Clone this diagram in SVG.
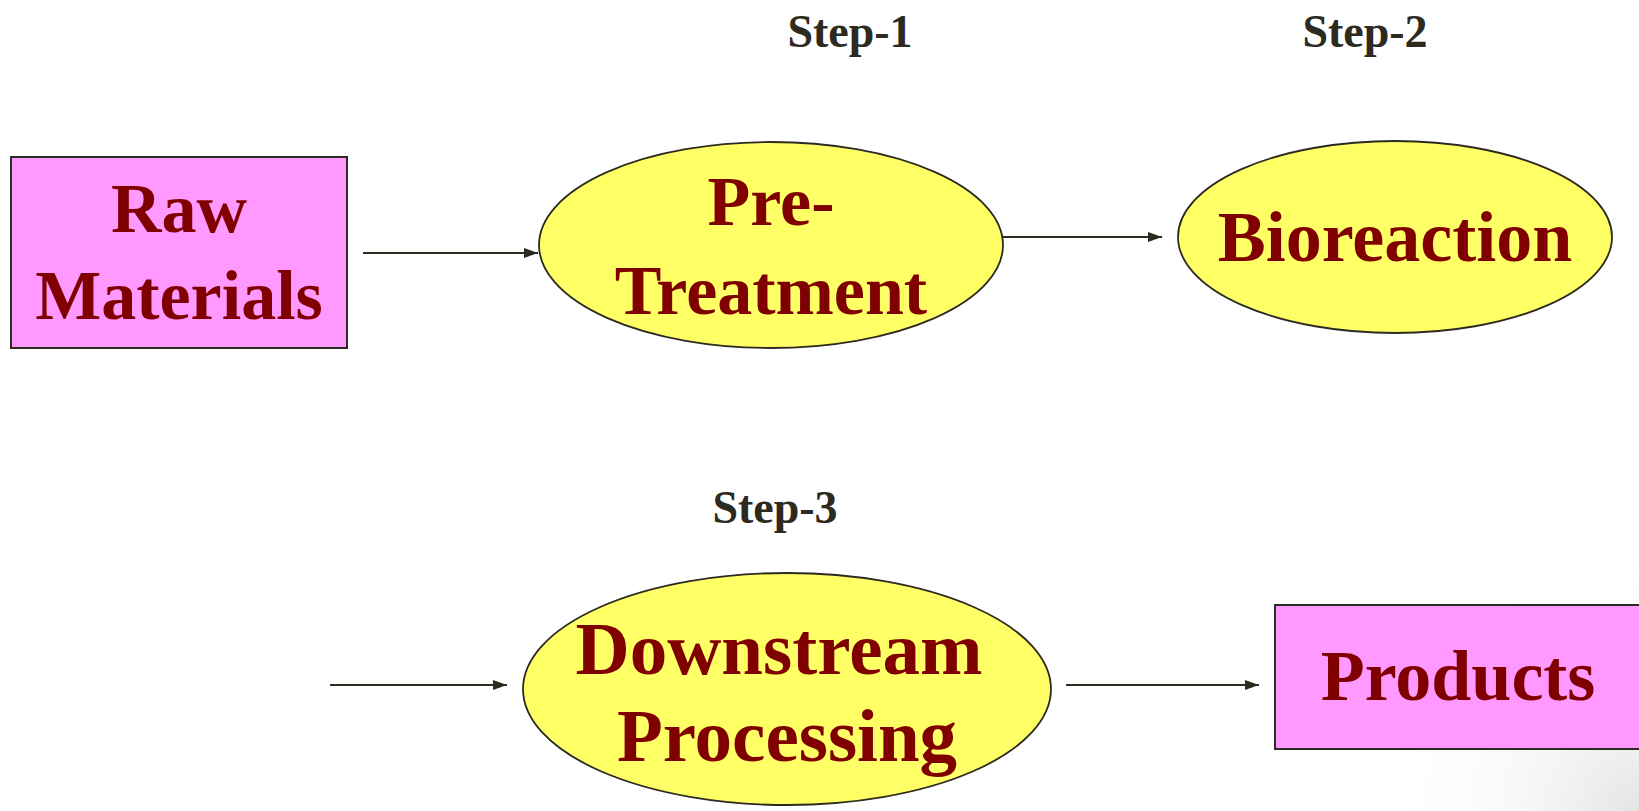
<svg xmlns="http://www.w3.org/2000/svg" width="1639" height="811" viewBox="0 0 1639 811">
<style>
.box{fill:#ff99ff;stroke:#2d2a20;stroke-width:2}
.ell{fill:#ffff66;stroke:#2d2a20;stroke-width:1.8}
.lbl{font-family:"Liberation Serif","Times New Roman",serif;font-weight:bold;fill:#800000;text-anchor:middle}
.step{font-family:"Liberation Serif","Times New Roman",serif;font-weight:bold;fill:#2d2a20;font-size:46px;text-anchor:middle}
.con{stroke:#2d2a20;stroke-width:2;fill:none;marker-end:url(#ah)}
</style>
<defs>
<marker id="ah" markerWidth="14" markerHeight="10" refX="14" refY="5" orient="auto" markerUnits="userSpaceOnUse">
<path d="M0,0 L14,5 L0,10 Z" fill="#2d2a20"/>
</marker>
<radialGradient id="bg" cx="1639" cy="811" r="260" gradientUnits="userSpaceOnUse">
<stop offset="0" stop-color="#e4e4e4" stop-opacity="1"/>
<stop offset="1" stop-color="#ffffff" stop-opacity="0"/>
</radialGradient>
</defs>
<rect x="0" y="0" width="1639" height="811" fill="#ffffff"/>
<rect x="1379" y="551" width="260" height="260" fill="url(#bg)"/>
<g id="step-labels">
<text class="step" x="850" y="47">Step-1</text>
<text class="step" x="1365" y="47">Step-2</text>
<text class="step" x="775" y="523">Step-3</text>
</g>
<g id="raw-materials">
<rect class="box" x="11" y="157" width="336" height="191"/>
<text class="lbl" font-size="70" x="179" y="232">Raw</text>
<text class="lbl" font-size="70" x="179" y="319">Materials</text>
</g>
<g id="pre-treatment">
<ellipse class="ell" cx="771" cy="245" rx="232" ry="103"/>
<text class="lbl" font-size="70" x="771" y="225">Pre-</text>
<text class="lbl" font-size="70" x="771" y="314">Treatment</text>
</g>
<g id="bioreaction">
<ellipse class="ell" cx="1395" cy="237" rx="217" ry="96"/>
<text class="lbl" font-size="72" x="1395" y="261">Bioreaction</text>
</g>
<g id="downstream-processing">
<ellipse class="ell" cx="787" cy="689" rx="264" ry="116"/>
<text class="lbl" font-size="75" x="779" y="674">Downstream</text>
<text class="lbl" font-size="75" x="787" y="761">Processing</text>
</g>
<g id="products">
<rect class="box" x="1275" y="605" width="380" height="144"/>
<text class="lbl" font-size="72" x="1458" y="700">Products</text>
</g>
<g id="connectors">
<line class="con" x1="363" y1="253" x2="538" y2="253"/>
<line class="con" x1="1003" y1="237" x2="1162" y2="237"/>
<line class="con" x1="330" y1="685" x2="507" y2="685"/>
<line class="con" x1="1066" y1="685" x2="1259" y2="685"/>
</g>
</svg>
